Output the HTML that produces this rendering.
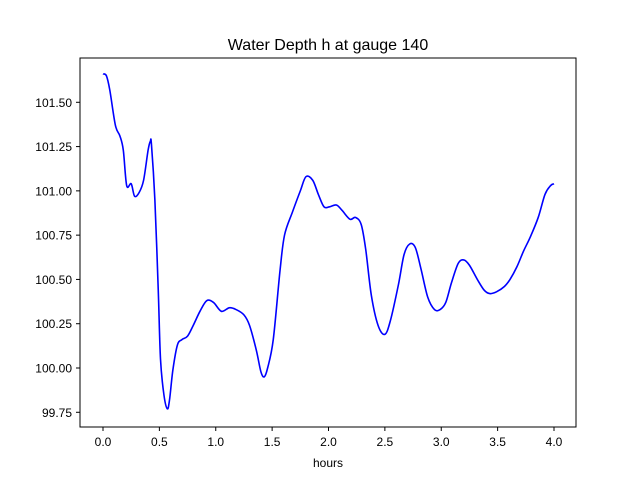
<!DOCTYPE html>
<html><head><meta charset="utf-8">
<style>
body{margin:0;background:#fff;}
svg{display:block;font-family:"Liberation Sans","DejaVu Sans",sans-serif;}
</style></head>
<body>
<svg id="chart" width="640" height="480" viewBox="0 0 640 480">
<rect width="640" height="480" fill="#fff"/>
<text x="328" y="50" font-size="16" text-anchor="middle">Water Depth h at gauge 140</text>
<g id="xticks"></g>
<g id="yticks"></g>
<path id="line" fill="none" stroke="#0000ff" stroke-width="1.6"/>
<rect x="80" y="58" width="496" height="369" fill="none" stroke="#000" stroke-width="1"/>
<text x="328" y="467" font-size="12" text-anchor="middle">hours</text>
</svg>
<script>
const hours=[0.0,0.03,0.06,0.11,0.15,0.18,0.21,0.25,0.28,0.32,0.36,0.40,0.42,0.43,0.46,0.49,0.51,0.54,0.57,0.59,0.62,0.66,0.70,0.75,0.80,0.86,0.92,0.98,1.05,1.12,1.18,1.25,1.30,1.36,1.40,1.43,1.46,1.51,1.57,1.61,1.68,1.75,1.80,1.86,1.91,1.96,2.01,2.07,2.12,2.19,2.24,2.29,2.33,2.38,2.44,2.50,2.55,2.62,2.67,2.72,2.77,2.82,2.88,2.94,2.99,3.04,3.09,3.15,3.20,3.25,3.32,3.38,3.43,3.49,3.56,3.61,3.67,3.73,3.79,3.86,3.92,3.97,4.00];
const depth=[101.66,101.65,101.57,101.37,101.31,101.23,101.03,101.04,100.97,100.99,101.06,101.23,101.28,101.26,100.95,100.44,100.05,99.85,99.77,99.82,99.99,100.13,100.16,100.18,100.24,100.32,100.38,100.37,100.32,100.34,100.33,100.30,100.24,100.10,99.98,99.95,100.00,100.16,100.55,100.75,100.88,101.00,101.08,101.06,100.98,100.91,100.91,100.92,100.89,100.84,100.85,100.81,100.67,100.41,100.24,100.19,100.27,100.47,100.64,100.70,100.68,100.56,100.40,100.33,100.33,100.37,100.48,100.59,100.61,100.58,100.50,100.44,100.42,100.43,100.46,100.50,100.57,100.66,100.74,100.85,100.98,101.03,101.04];
const xTickVals=[0.0,0.5,1.0,1.5,2.0,2.5,3.0,3.5,4.0];
const xTickLabels=["0.0","0.5","1.0","1.5","2.0","2.5","3.0","3.5","4.0"];
const yTickVals=[99.75,100.00,100.25,100.50,100.75,101.00,101.25,101.50];
const yTickLabels=["99.75","100.00","100.25","100.50","100.75","101.00","101.25","101.50"];
const X=v=>103+v*112.75;
const Y=v=>368-(v-100)*177.14;
const ns="http://www.w3.org/2000/svg";
const xg=document.getElementById('xticks'), yg=document.getElementById('yticks');
xTickVals.forEach((v,i)=>{
  const l=document.createElementNS(ns,'line');
  l.setAttribute('x1',X(v));l.setAttribute('x2',X(v));l.setAttribute('y1',427);l.setAttribute('y2',431);l.setAttribute('stroke','#000');
  
  
  xg.appendChild(l);
  const t=document.createElementNS(ns,'text');
  t.setAttribute('x',X(v));t.setAttribute('y',446);t.setAttribute('font-size','12');t.setAttribute('text-anchor','middle');
  t.textContent=xTickLabels[i];
  
  
  xg.appendChild(t);
});
yTickVals.forEach((v,i)=>{
  const l=document.createElementNS(ns,'line');
  l.setAttribute('x1',76);l.setAttribute('x2',80);l.setAttribute('y1',Y(v));l.setAttribute('y2',Y(v));l.setAttribute('stroke','#000');
  
  
  yg.appendChild(l);
  const t=document.createElementNS(ns,'text');
  t.setAttribute('x',72);t.setAttribute('y',Y(v)+4.5);t.setAttribute('font-size','12');t.setAttribute('text-anchor','end');
  t.textContent=yTickLabels[i];
  
  
  yg.appendChild(t);
});
const pts=hours.map((h,i)=>[X(h),Y(depth[i])]);
let d=`M${pts[0][0]},${pts[0][1]}`;
for(let i=0;i<pts.length-1;i++){
  const p0=pts[Math.max(0,i-1)],p1=pts[i],p2=pts[i+1],p3=pts[Math.min(pts.length-1,i+2)];
  const c1=[p1[0]+(p2[0]-p0[0])/6,p1[1]+(p2[1]-p0[1])/6];
  const c2=[p2[0]-(p3[0]-p1[0])/6,p2[1]-(p3[1]-p1[1])/6];
  d+=`C${c1[0]},${c1[1]} ${c2[0]},${c2[1]} ${p2[0]},${p2[1]}`;
}
document.getElementById('line').setAttribute('d',d);
</script>
</body></html>
